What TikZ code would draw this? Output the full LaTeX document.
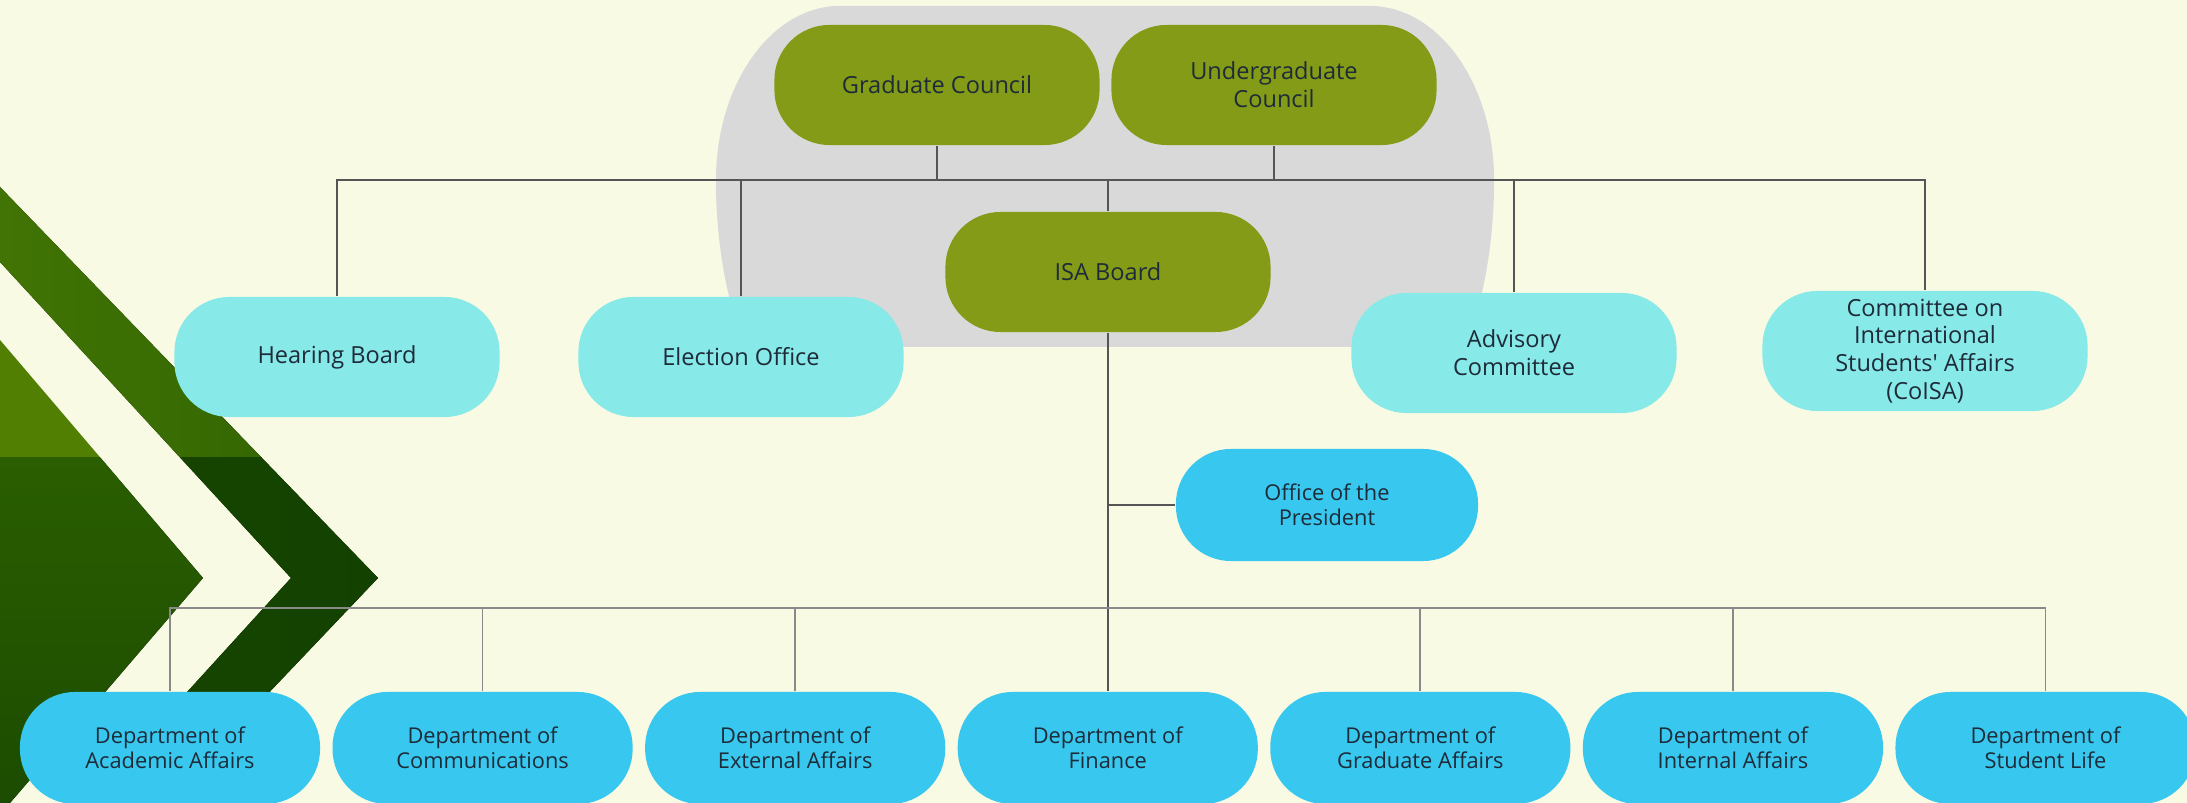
\documentclass[tikz,border=0pt]{standalone}
\usepackage{fontspec}
\setmainfont{Open Sans}[Ligatures=TeXOff]
\usetikzlibrary{positioning}
\definecolor{PageCream}{HTML}{F8FAE4}
\definecolor{BlobGray}{HTML}{D9D9D9}
\definecolor{CouncilOlive}{HTML}{839B17}
\definecolor{OfficeAqua}{HTML}{87E9E8}
\definecolor{DeptBlue}{HTML}{38C8EF}
\definecolor{InkDark}{HTML}{1E2B38}
\definecolor{LineDark}{HTML}{555555}
\definecolor{LineGray}{HTML}{8A8A8A}
\definecolor{BandLight}{HTML}{417404}
\definecolor{BandMid}{HTML}{2F6200}
\definecolor{BandDark}{HTML}{134100}
\definecolor{WedgeLight}{HTML}{507F02}
\definecolor{WedgeMid}{HTML}{2A5E00}
\definecolor{WedgeDark}{HTML}{1C4C00}

\begin{document}
\begin{tikzpicture}[x=0.01cm, y=0.01cm, node distance=0.11cm,
    every node/.style={align=center, text=InkDark, inner sep=0pt},
    unit/.style={rounded corners=0.55cm, minimum width=3.25cm, minimum height=1.2cm, font=\fontsize{6.7}{7.9}\selectfont},
    council/.style={unit, fill=CouncilOlive},
    office/.style={unit, fill=OfficeAqua},
    dept/.style={unit, fill=DeptBlue, minimum width=3.0cm, minimum height=1.12cm, font=\fontsize{6.2}{7.2}\selectfont},
    link/.style={draw=LineDark, line width=0.4pt},
    linkgray/.style={draw=LineGray, line width=0.5pt}]

    % page
    \fill[PageCream] (0,0) rectangle (2187,803);
    \useasboundingbox (0,0) rectangle (2187,803);

    % chevron band and wedge on the left edge
    \begin{scope}
        \clip (0,616) -- (378,225) -- (164,0) -- (86,0) -- (291,225) -- (0,541) -- cycle;
        \fill[left color=BandLight, right color=BandMid] (0,345) rectangle (380,620);
        \fill[left color=BandDark!80!BandMid, right color=BandDark] (0,0) rectangle (380,345);
    \end{scope}
    \begin{scope}
        \clip (0,463) -- (203,225) -- (10,0) -- (0,0) -- cycle;
        \fill[WedgeLight] (0,345) rectangle (210,470);
        \fill[top color=WedgeMid, bottom color=WedgeDark] (0,0) rectangle (210,345);
    \end{scope}

    % gray backdrop behind the councils
    \begin{scope}
        \clip (700,456) rectangle (1500,803);
        \fill[BlobGray] (716,623) arc[start angle=180, end angle=90, x radius=1.24cm, y radius=1.74cm]
            -- (1370,797) arc[start angle=90, end angle=0, x radius=1.24cm, y radius=1.74cm]
            arc[start angle=0, end angle=-90, x radius=1.24cm, y radius=2.6cm]
            -- (840,363) arc[start angle=270, end angle=180, x radius=1.24cm, y radius=2.6cm] -- cycle;
    \end{scope}

    % councils and board
    \node[council] (grad) at (937,718) {Graduate Council};
    \node[council] (ugrad) at (1274,718) {Undergraduate\\Council};
    \node[council] (isa) at (1108,531) {ISA Board};

    % offices and committees
    \node[office] (hear) at (337,446) {Hearing Board};
    \node[office] (elec) at (741,446) {Election Office};
    \node[office] (advis) at (1514,450) {Advisory\\Committee};
    \node[office] (coisa) at (1925,452) {Committee on\\International\\Students' Affairs\\(CoISA)};
    \node[dept, minimum width=3.02cm] (pres) at (1327,298) {Office of the\\President};

    % departments, left to right
    \node[dept] (acad) at (170,55) {Department of\\Academic Affairs};
    \node[dept, right=of acad] (comm) {Department of\\Communications};
    \node[dept, right=of comm] (ext) {Department of\\External Affairs};
    \node[dept, right=of ext] (fin) {Department of\\Finance};
    \node[dept, right=of fin] (gaff) {Department of\\Graduate Affairs};
    \node[dept, right=of gaff] (int) {Department of\\Internal Affairs};
    \node[dept, right=of int] (life) {Department of\\Student Life};

    % Lines
    \coordinate (topbus) at (0,623);
    \coordinate (lowbus) at (0,195);
    \draw[link] (hear.north) -- (hear.north |- topbus) -- (coisa.north |- topbus) -- (coisa.north);
    \foreach \n in {grad,ugrad} \draw[link] (\n.south) -- (\n.south |- topbus);
    \foreach \n in {elec,isa,advis} \draw[link] (\n.north) -- (\n.north |- topbus);
    \draw[link] (isa.south) -- (isa.south |- fin.north);
    \draw[link] (isa.south |- pres.west) -- (pres.west);
    \draw[linkgray] (acad.north) -- (acad.north |- lowbus) -- (life.north |- lowbus) -- (life.north);
    \foreach \n in {comm,ext,gaff,int} \draw[linkgray] (\n.north) -- (\n.north |- lowbus);
\end{tikzpicture}
\end{document}
